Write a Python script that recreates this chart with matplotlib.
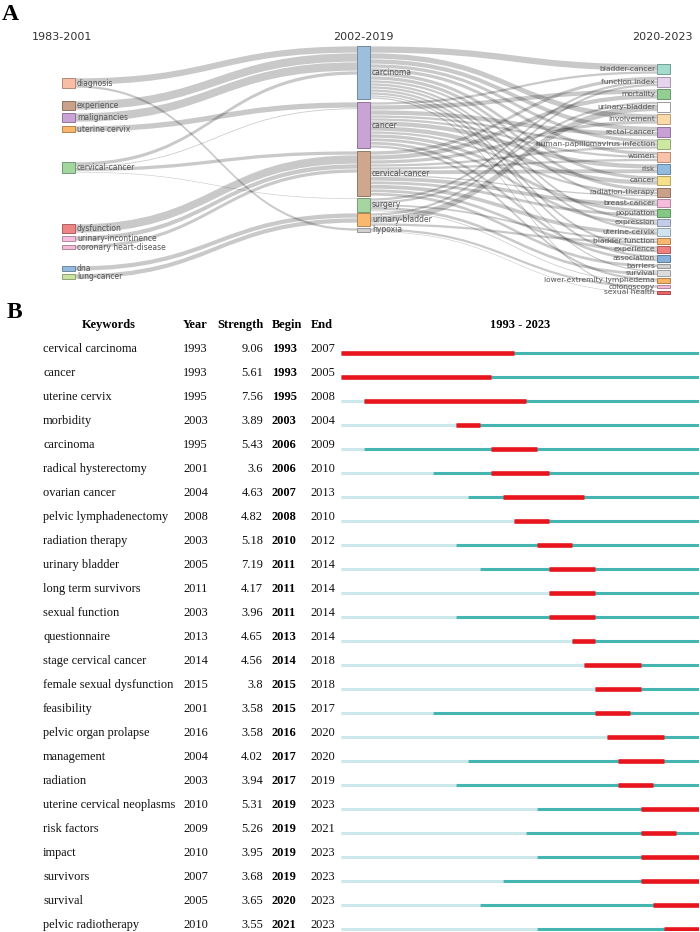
import matplotlib.pyplot as plt
from matplotlib.path import Path
from matplotlib.patches import PathPatch, Rectangle
from matplotlib.colors import to_rgb

# ---------------- Panel A : keyword evolution (sankey) ----------------
periods = ["1983-2001", "2002-2019", "2020-2023"]

left_nodes = ["diagnosis", "experience", "malignancies", "uterine cervix", "cervical-cancer",
              "dysfunction", "urinary-incontinence", "coronary heart-disease", "dna", "lung-cancer"]
left_colors = ["#f8bda5", "#c9a08a", "#c9a3d3", "#f9b76e", "#a3d59f",
               "#ee8585", "#f5c0dd", "#f2bcd9", "#94bbdf", "#cbe3a0"]

mid_nodes = ["carcinoma", "cancer", "cervical-cancer", "surgery", "urinary-bladder", "hypoxia"]
mid_colors = ["#9dbfdd", "#c9a3d3", "#cfa68e", "#a5d5a0", "#f9b870", "#d0d0d0"]

right_nodes = ["bladder-cancer", "function index", "mortality", "urinary-bladder", "involvement",
               "rectal-cancer", "human-papillomavirus infection", "women", "risk", "cancer",
               "radiation-therapy", "breast-cancer", "population", "expression", "uterine-cervix",
               "bladder function", "experience", "association", "barriers", "survival",
               "lower-extremity lymphedema", "colonoscopy", "sexual health"]
right_colors = ["#a3dccc", "#e6d3ee", "#93cf93", "#ffffff", "#fdd8a8", "#c8a0d6", "#cde8a3",
                "#f9c2aa", "#92bbe0", "#f7e08a", "#c9a08a", "#f5bcdc", "#85c885", "#c3cde9",
                "#d0e4f0", "#f9b870", "#ee8080", "#84b0d9", "#d0d0d0", "#dcdcdc", "#f7b366",
                "#f3bbd8", "#e86868"]

# (source, target, weight)
flows_lm = [
    ("diagnosis", "carcinoma", 7), ("diagnosis", "hypoxia", 3),
    ("experience", "carcinoma", 9), ("malignancies", "carcinoma", 9),
    ("uterine cervix", "cancer", 6),
    ("cervical-cancer", "carcinoma", 4), ("cervical-cancer", "cancer", 1.5),
    ("cervical-cancer", "cervical-cancer", 4), ("cervical-cancer", "surgery", 1),
    ("dysfunction", "cervical-cancer", 9), ("urinary-incontinence", "cervical-cancer", 5),
    ("coronary heart-disease", "cervical-cancer", 4),
    ("dna", "urinary-bladder", 5), ("lung-cancer", "urinary-bladder", 5),
]
flows_mr = [
    ("carcinoma", "bladder-cancer", 7), ("carcinoma", "involvement", 6),
    ("carcinoma", "rectal-cancer", 5), ("carcinoma", "human-papillomavirus infection", 4),
    ("carcinoma", "women", 4), ("carcinoma", "cancer", 4), ("carcinoma", "radiation-therapy", 4),
    ("carcinoma", "breast-cancer", 3), ("carcinoma", "expression", 3),
    ("carcinoma", "uterine-cervix", 3), ("carcinoma", "experience", 3),
    ("carcinoma", "association", 3), ("carcinoma", "survival", 2), ("carcinoma", "sexual health", 2),
    ("cancer", "bladder-cancer", 3), ("cancer", "mortality", 5), ("cancer", "rectal-cancer", 5),
    ("cancer", "human-papillomavirus infection", 3), ("cancer", "women", 3), ("cancer", "risk", 5),
    ("cancer", "cancer", 5), ("cancer", "radiation-therapy", 3), ("cancer", "population", 4),
    ("cancer", "expression", 3.5), ("cancer", "association", 3.5),
    ("cancer", "lower-extremity lymphedema", 3),
    ("cervical-cancer", "function index", 4), ("cervical-cancer", "mortality", 5),
    ("cervical-cancer", "involvement", 4), ("cervical-cancer", "human-papillomavirus infection", 3),
    ("cervical-cancer", "women", 3), ("cervical-cancer", "risk", 4.5),
    ("cervical-cancer", "radiation-therapy", 2), ("cervical-cancer", "breast-cancer", 4.5),
    ("cervical-cancer", "population", 3.5), ("cervical-cancer", "uterine-cervix", 4.5),
    ("cervical-cancer", "experience", 3.5), ("cervical-cancer", "barriers", 3.5),
    ("surgery", "function index", 3), ("surgery", "urinary-bladder", 3),
    ("surgery", "bladder function", 2.5), ("surgery", "survival", 3.5),
    ("surgery", "lower-extremity lymphedema", 1.5),
    ("urinary-bladder", "function index", 3), ("urinary-bladder", "urinary-bladder", 7),
    ("urinary-bladder", "bladder function", 3),
    ("hypoxia", "colonoscopy", 3), ("hypoxia", "sexual health", 1),
]

# ---------------- Panel B : citation bursts ----------------
keywords = ["cervical carcinoma", "cancer", "uterine cervix", "morbidity", "carcinoma",
            "radical hysterectomy", "ovarian cancer", "pelvic lymphadenectomy", "radiation therapy",
            "urinary bladder", "long term survivors", "sexual function", "questionnaire",
            "stage cervical cancer", "female sexual dysfunction", "feasibility",
            "pelvic organ prolapse", "management", "radiation", "uterine cervical neoplasms",
            "risk factors", "impact", "survivors", "survival", "pelvic radiotherapy"]
first_year = [1993, 1993, 1995, 2003, 1995, 2001, 2004, 2008, 2003, 2005, 2011, 2003, 2013,
              2014, 2015, 2001, 2016, 2004, 2003, 2010, 2009, 2010, 2007, 2005, 2010]
strength = [9.06, 5.61, 7.56, 3.89, 5.43, 3.6, 4.63, 4.82, 5.18, 7.19, 4.17, 3.96, 4.65,
            4.56, 3.8, 3.58, 3.58, 4.02, 3.94, 5.31, 5.26, 3.95, 3.68, 3.65, 3.55]
begin = [1993, 1993, 1995, 2003, 2006, 2006, 2007, 2008, 2010, 2011, 2011, 2011, 2013,
         2014, 2015, 2015, 2016, 2017, 2017, 2019, 2019, 2019, 2019, 2020, 2021]
end = [2007, 2005, 2008, 2004, 2009, 2010, 2013, 2010, 2012, 2014, 2014, 2014, 2014,
       2018, 2018, 2017, 2020, 2020, 2019, 2023, 2021, 2023, 2023, 2023, 2023]
year_min, year_max = 1993, 2023

W, H = 700, 932
fig = plt.figure(figsize=(W / 100, H / 100), dpi=100)
ax = fig.add_axes([0, 0, 1, 1])
ax.set_xlim(0, W)
ax.set_ylim(H, 0)
ax.axis("off")

sans = "DejaVu Sans"
serif = "Liberation Serif"

# ---- sankey layout
col_x = [62, 357, 657]
node_w = 13
left_top = [78, 101, 113, 126, 162, 224, 236, 245, 266, 274]
mid_top = [46, 102, 151, 198, 213, 228]
right_start, right_gap = 64, 2.5


def sizes(names, fin, fout):
    out = {}
    for n in names:
        s_in = sum(w for s, t, w in fin if t == n)
        s_out = sum(w for s, t, w in fout if s == n)
        out[n] = max(s_in, s_out)
    return out


size_l = sizes(left_nodes, [], flows_lm)
size_m = sizes(mid_nodes, flows_lm, flows_mr)
size_r = sizes(right_nodes, flows_mr, [])

pos_l = dict(zip(left_nodes, left_top))
pos_m = dict(zip(mid_nodes, mid_top))
pos_r = {}
y = right_start
for n in right_nodes:
    pos_r[n] = y
    y += size_r[n] + right_gap


def band(x0, y0, x1, y1, w):
    pad = 0.35
    y0, y1, w = y0 + pad, y1 + pad, max(w - 2 * pad, 0.6)
    xm = (x0 + x1) / 2
    verts = [(x0, y0), (xm, y0), (xm, y1), (x1, y1), (x1, y1 + w),
             (xm, y1 + w), (xm, y0 + w), (x0, y0 + w), (x0, y0)]
    codes = [Path.MOVETO, Path.CURVE4, Path.CURVE4, Path.CURVE4, Path.LINETO,
             Path.CURVE4, Path.CURVE4, Path.CURVE4, Path.CLOSEPOLY]
    ax.add_patch(PathPatch(Path(verts, codes), facecolor="black", alpha=0.21,
                           edgecolor="none", zorder=1))


def draw_links(flows, ps, ss, pt, st, xa, xb):
    cs = lambda d, s, n: d[n] + s[n] / 2
    off_s = {n: 0 for n in ps}
    off_t = {n: 0 for n in pt}
    ys, yt = {}, {}
    for i, (s, t, w) in sorted(enumerate(flows), key=lambda e: (ps[e[1][0]], cs(pt, st, e[1][1]))):
        ys[i] = ps[s] + off_s[s]
        off_s[s] += w
    for i, (s, t, w) in sorted(enumerate(flows), key=lambda e: (pt[e[1][1]], cs(ps, ss, e[1][0]))):
        yt[i] = pt[t] + off_t[t]
        off_t[t] += w
    for i, (s, t, w) in enumerate(flows):
        band(xa, ys[i], xb, yt[i], w)


draw_links(flows_lm, pos_l, size_l, pos_m, size_m, col_x[0] + node_w, col_x[1])
draw_links(flows_mr, pos_m, size_m, pos_r, size_r, col_x[1] + node_w, col_x[2])


def draw_nodes(names, colors, pos, size, x, side):
    for n, c in zip(names, colors):
        edge = tuple(v * 0.72 for v in to_rgb(c)) if c != "#ffffff" else "#9a9a9a"
        ax.add_patch(Rectangle((x, pos[n]), node_w, size[n], facecolor=c,
                               edgecolor=edge, linewidth=0.7, zorder=3))
        yc = pos[n] + size[n] / 2
        if side == "right":
            ax.text(x + node_w + 2, yc, n, ha="left", va="center", fontsize=5.5,
                    color="#555555", family=sans, zorder=4)
        else:
            ax.text(x - 2, yc, n, ha="right", va="center", fontsize=5.4,
                    color="#555555", family=sans, zorder=4)


draw_nodes(left_nodes, left_colors, pos_l, size_l, col_x[0], "right")
draw_nodes(mid_nodes, mid_colors, pos_m, size_m, col_x[1], "right")
draw_nodes(right_nodes, right_colors, pos_r, size_r, col_x[2], "left")

ax.text(62, 37, periods[0], ha="center", va="center", fontsize=8, color="#333333", family=sans)
ax.text(363, 37, periods[1], ha="center", va="center", fontsize=8, color="#333333", family=sans)
ax.text(693, 37, periods[2], ha="right", va="center", fontsize=8, color="#333333", family=sans)

ax.text(2, 14, "A", ha="left", va="center", fontsize=17, fontweight="bold", family=serif)
ax.text(7, 313, "B", ha="left", va="center", fontsize=17, fontweight="bold", family=serif)

# ---- burst table text
row_y0, row_step, head_y = 349, 24, 325
fs = 8.9
ax.text(109, head_y, "Keywords", ha="center", va="center", fontsize=fs, fontweight="bold", family=serif)
ax.text(183, head_y, "Year", ha="left", va="center", fontsize=fs, fontweight="bold", family=serif)
ax.text(217, head_y, "Strength", ha="left", va="center", fontsize=fs, fontweight="bold", family=serif)
ax.text(272, head_y, "Begin", ha="left", va="center", fontsize=fs, fontweight="bold", family=serif)
ax.text(311, head_y, "End", ha="left", va="center", fontsize=fs, fontweight="bold", family=serif)
ax.text(520, head_y, f"{year_min} - {year_max}", ha="center", va="center", fontsize=fs,
        fontweight="bold", family=serif)

for i, kw in enumerate(keywords):
    yy = row_y0 + row_step * i
    ax.text(43, yy, kw, ha="left", va="center", fontsize=fs, family=serif, color="#111111")
    ax.text(183, yy, str(first_year[i]), ha="left", va="center", fontsize=fs, family=serif, color="#111111")
    ax.text(263, yy, f"{strength[i]:g}", ha="right", va="center", fontsize=fs, family=serif, color="#111111")
    ax.text(272, yy, str(begin[i]), ha="left", va="center", fontsize=fs, fontweight="bold", family=serif)
    ax.text(310, yy, str(end[i]), ha="left", va="center", fontsize=fs, family=serif, color="#111111")

# ---- burst bars (year scale)
bar_x0, bar_x1 = 341, 699
bar_top, bar_bot = 335, 931
bar_row0 = 353
axb = fig.add_axes([bar_x0 / W, 1 - bar_bot / H, (bar_x1 - bar_x0) / W, (bar_bot - bar_top) / H])
axb.set_xlim(year_min, year_max + 1)
axb.set_ylim((bar_bot - bar_row0) / row_step, (bar_top - bar_row0) / row_step)
axb.axis("off")
for i in range(len(keywords)):
    axb.hlines(i, year_min, first_year[i], color="#cde8ea", linewidth=2.2, capstyle="butt")
    axb.hlines(i, first_year[i], year_max + 1, color="#45b5b2", linewidth=2.2, capstyle="butt")
    axb.hlines(i, begin[i], end[i] + 1, color="#e8141c", linewidth=3.3, capstyle="butt")

fig.savefig("out.png", dpi=100)
